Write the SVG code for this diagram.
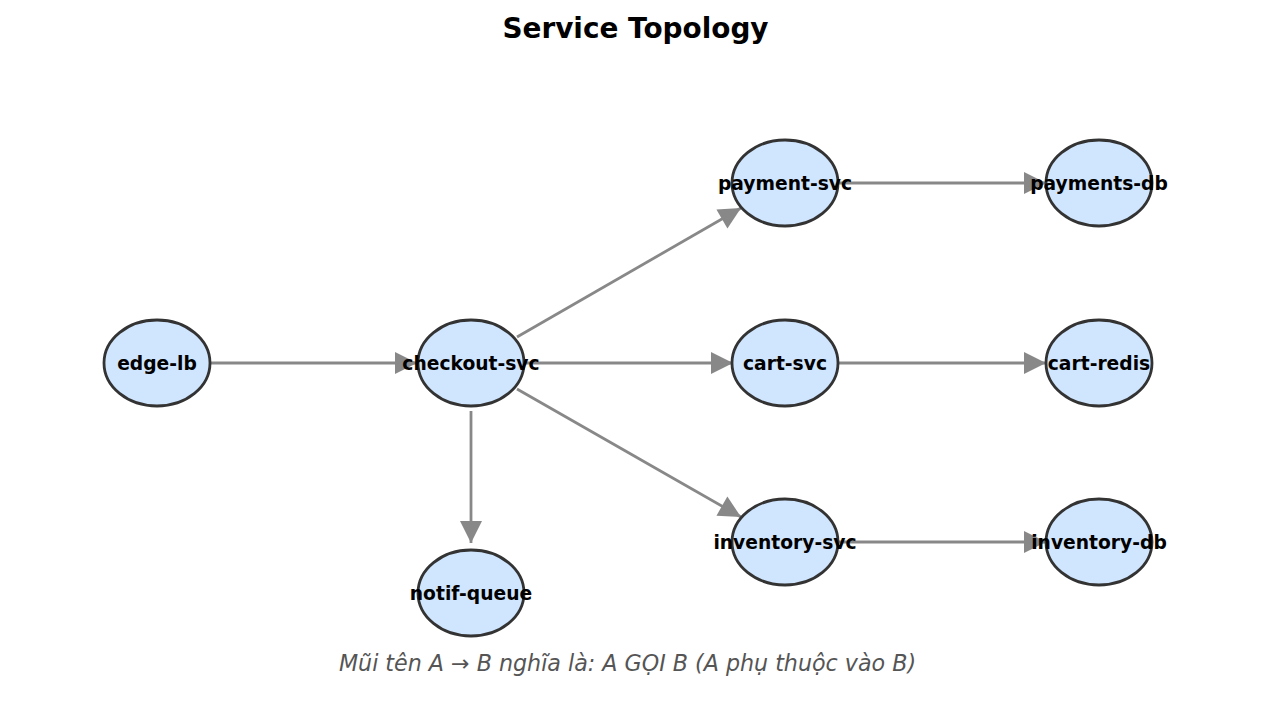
<svg xmlns="http://www.w3.org/2000/svg" width="1272" height="712" viewBox="0 0 1272 712">
<style>
.node{fill:#d0e6ff;stroke:#333333;stroke-width:2.8}
.lbl{font-family:"DejaVu Sans",sans-serif;font-weight:bold;font-size:18.7px;fill:#000;text-anchor:middle}
.edge{stroke:#888888;stroke-width:2.8;fill:none}
.title{font-family:"DejaVu Sans",sans-serif;font-weight:bold;font-size:27.9px;fill:#000;text-anchor:middle}
.cap{font-family:"DejaVu Sans",sans-serif;font-style:italic;font-size:22.2px;fill:#555555;text-anchor:middle}
</style>
<defs>
<marker id="ah" markerUnits="userSpaceOnUse" markerWidth="24" markerHeight="24" viewBox="0 -12 22 24" refX="22" refY="0" orient="auto">
<path d="M0,-11 L22,0 L0,11 Z" fill="#888888"/>
</marker>
</defs>
<rect width="1272" height="712" fill="#ffffff"/>
<text class="title" x="635.5" y="38">Service Topology</text>
<g id="connectors">
<line class="edge" x1="211" y1="363" x2="417" y2="363" marker-end="url(#ah)"/>
<line class="edge" x1="517" y1="337" x2="741" y2="208" marker-end="url(#ah)"/>
<line class="edge" x1="525" y1="363" x2="733" y2="363" marker-end="url(#ah)"/>
<line class="edge" x1="517" y1="389" x2="741" y2="517" marker-end="url(#ah)"/>
<line class="edge" x1="471" y1="411" x2="471" y2="543" marker-end="url(#ah)"/>
<line class="edge" x1="839" y1="183" x2="1046" y2="183" marker-end="url(#ah)"/>
<line class="edge" x1="839" y1="363" x2="1046" y2="363" marker-end="url(#ah)"/>
<line class="edge" x1="839" y1="542" x2="1046" y2="542" marker-end="url(#ah)"/>
</g>
<g id="edge-lb"><ellipse class="node" cx="157" cy="363" rx="53" ry="43"/><text class="lbl" x="157" y="369.5">edge-lb</text></g>
<g id="checkout-svc"><ellipse class="node" cx="471" cy="363" rx="53" ry="43"/><text class="lbl" x="471" y="369.5">checkout-svc</text></g>
<g id="payment-svc"><ellipse class="node" cx="785" cy="183" rx="53" ry="43"/><text class="lbl" x="785" y="189.5">payment-svc</text></g>
<g id="cart-svc"><ellipse class="node" cx="785" cy="363" rx="53" ry="43"/><text class="lbl" x="785" y="369.5">cart-svc</text></g>
<g id="inventory-svc"><ellipse class="node" cx="785" cy="542" rx="53" ry="43"/><text class="lbl" x="785" y="548.5">inventory-svc</text></g>
<g id="notif-queue"><ellipse class="node" cx="471" cy="593" rx="53" ry="43"/><text class="lbl" x="471" y="599.5">notif-queue</text></g>
<g id="payments-db"><ellipse class="node" cx="1099" cy="183" rx="53" ry="43"/><text class="lbl" x="1099" y="189.5">payments-db</text></g>
<g id="cart-redis"><ellipse class="node" cx="1099" cy="363" rx="53" ry="43"/><text class="lbl" x="1099" y="369.5">cart-redis</text></g>
<g id="inventory-db"><ellipse class="node" cx="1099" cy="542" rx="53" ry="43"/><text class="lbl" x="1099" y="548.5">inventory-db</text></g>
<text class="cap" x="627.5" y="671">Mũi tên A → B nghĩa là: A GỌI B (A phụ thuộc vào B)</text>
</svg>
